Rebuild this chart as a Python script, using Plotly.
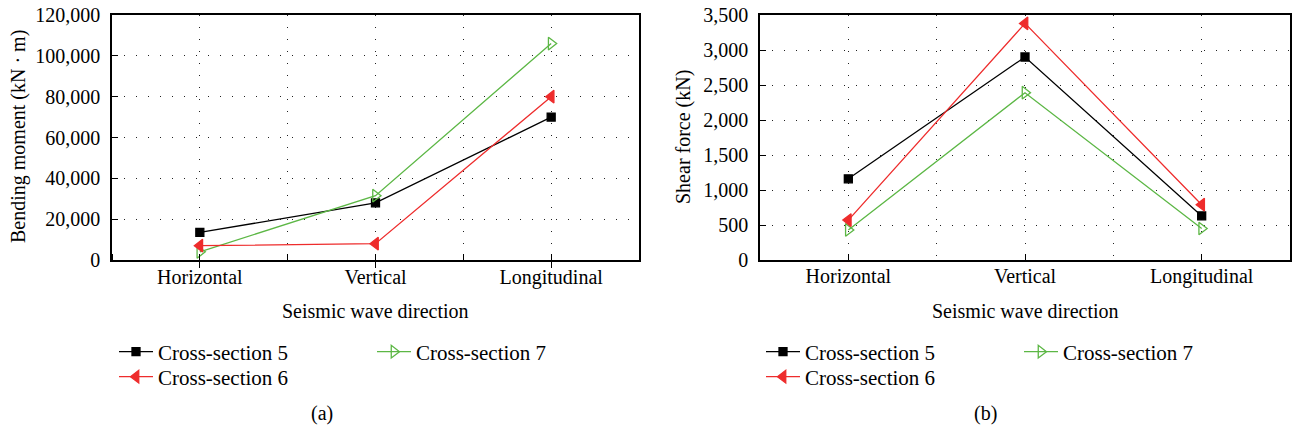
import plotly.graph_objects as go

categories = ["Horizontal", "Vertical", "Longitudinal"]
series_names = ["Cross-section 5", "Cross-section 6", "Cross-section 7"]

bending_cs5 = [13500, 28000, 70000]
bending_cs6 = [7000, 8000, 80000]
bending_cs7 = [4000, 31500, 106000]

shear_cs5 = [1160, 2900, 630]
shear_cs6 = [570, 3380, 790]
shear_cs7 = [430, 2390, 450]

bending_ticks = [0, 20000, 40000, 60000, 80000, 100000, 120000]
shear_ticks = [0, 500, 1000, 1500, 2000, 2500, 3000, 3500]

W, H = 1294, 436
FONT = "Liberation Serif"
FS = 20
BLACK = "#000000"
RED = "#ee2c2c"
GREEN = "#5cb745"

styles = {
    "Cross-section 5": dict(color=BLACK, symbol="square", size=8),
    "Cross-section 6": dict(color=RED, symbol="triangle-left", size=11),
    "Cross-section 7": dict(color=GREEN, symbol="triangle-right-open", size=11),
}

xpos = list(range(len(categories)))

fig = go.Figure()

def add_series(name, vals, xa, ya, legend):
    st = styles[name]
    fig.add_trace(go.Scatter(
        x=xpos, y=vals, name=name, mode="lines+markers",
        line=dict(color=st["color"], width=1.3),
        marker=dict(symbol=st["symbol"], size=st["size"], color=st["color"],
                    line=dict(color=st["color"], width=1.3)),
        xaxis=xa, yaxis=ya, legend=legend, cliponaxis=False,
    ))

# left panel: legend rows: (CS5, CS7) row1, CS6 row2
add_series("Cross-section 5", bending_cs5, "x", "y", "legend")
add_series("Cross-section 7", bending_cs7, "x", "y", "legend")
add_series("Cross-section 6", bending_cs6, "x", "y", "legend2")
# right panel
add_series("Cross-section 5", shear_cs5, "x2", "y2", "legend3")
add_series("Cross-section 7", shear_cs7, "x2", "y2", "legend3")
add_series("Cross-section 6", shear_cs6, "x2", "y2", "legend4")

def px_x(v):
    return v / W

def px_y(v):
    return 1 - v / H

ydom = [px_y(260), px_y(15)]
GRID = dict(gridcolor="#222222", gridwidth=1.3, griddash="1.3px,10.7px")

def xaxis_cfg(domain, major_ticks, minor_ticks, anchor, standoff):
    return dict(
        domain=domain, anchor=anchor, range=[-0.5, 2.5],
        tickvals=xpos, ticktext=categories,
        ticks=major_ticks, ticklen=6, tickcolor=BLACK, tickwidth=1.3,
        showline=True, mirror=True, linecolor=BLACK, linewidth=1.5,
        zeroline=False, automargin=False, ticklabelstandoff=standoff,
        tickfont=dict(family=FONT, size=FS, color=BLACK),
        minor=dict(tick0=-0.5, dtick=0.5, ticks=minor_ticks, ticklen=6,
                   tickcolor=BLACK, tickwidth=1.3, showgrid=True, **GRID),
        showgrid=True, **GRID,
    )

def yaxis_cfg(rng, ticks, anchor):
    return dict(
        domain=ydom, anchor=anchor, range=rng,
        tickvals=ticks, tickformat=",d",
        ticks="inside", ticklen=6, tickcolor=BLACK, tickwidth=1.3,
        showline=True, mirror=True, linecolor=BLACK, linewidth=1.5,
        zeroline=False, automargin=False, ticklabelstandoff=6,
        tickfont=dict(family=FONT, size=FS, color=BLACK),
        showgrid=True, **GRID,
    )

legend_common = dict(
    orientation="h", xanchor="left", yanchor="middle",
    font=dict(family=FONT, size=FS + 1, color=BLACK),
    bgcolor="rgba(0,0,0,0)", borderwidth=0,
    itemclick=False, itemdoubleclick=False,
    tracegroupgap=0, itemwidth=34,
)

fig.update_layout(
    template="none",
    width=W, height=H,
    margin=dict(l=0, r=0, t=0, b=0, autoexpand=False),
    paper_bgcolor="white", plot_bgcolor="white",
    font=dict(family=FONT, size=FS, color=BLACK),
    xaxis=xaxis_cfg([px_x(112), px_x(639)], "outside", "inside", "y", -8),
    yaxis=yaxis_cfg([0, 120000], bending_ticks, "x"),
    xaxis2=xaxis_cfg([px_x(760), px_x(1290)], "inside", "", "y2", -3),
    yaxis2=yaxis_cfg([0, 3500], shear_ticks, "x2"),
    legend=dict(x=px_x(114), y=px_y(352), entrywidth=209, **legend_common),
    legend2=dict(x=px_x(114), y=px_y(377), **legend_common),
    legend3=dict(x=px_x(761), y=px_y(352), entrywidth=209, **legend_common),
    legend4=dict(x=px_x(761), y=px_y(377), **legend_common),
    showlegend=True,
)

annots = [
    dict(text="Seismic wave direction", x=px_x(375), y=px_y(311)),
    dict(text="Seismic wave direction", x=px_x(1025), y=px_y(311)),
    dict(text="(a)", x=px_x(322), y=px_y(413)),
    dict(text="(b)", x=px_x(985), y=px_y(413)),
    dict(text="Bending moment (kN · m)", x=px_x(18), y=px_y(137), textangle=-90),
    dict(text="Shear force (kN)", x=px_x(683), y=px_y(137), textangle=-90),
]
for a in annots:
    fig.add_annotation(
        xref="paper", yref="paper", showarrow=False,
        xanchor="center", yanchor="middle",
        font=dict(family=FONT, size=FS, color=BLACK), **a,
    )

fig.write_html("out.html")
